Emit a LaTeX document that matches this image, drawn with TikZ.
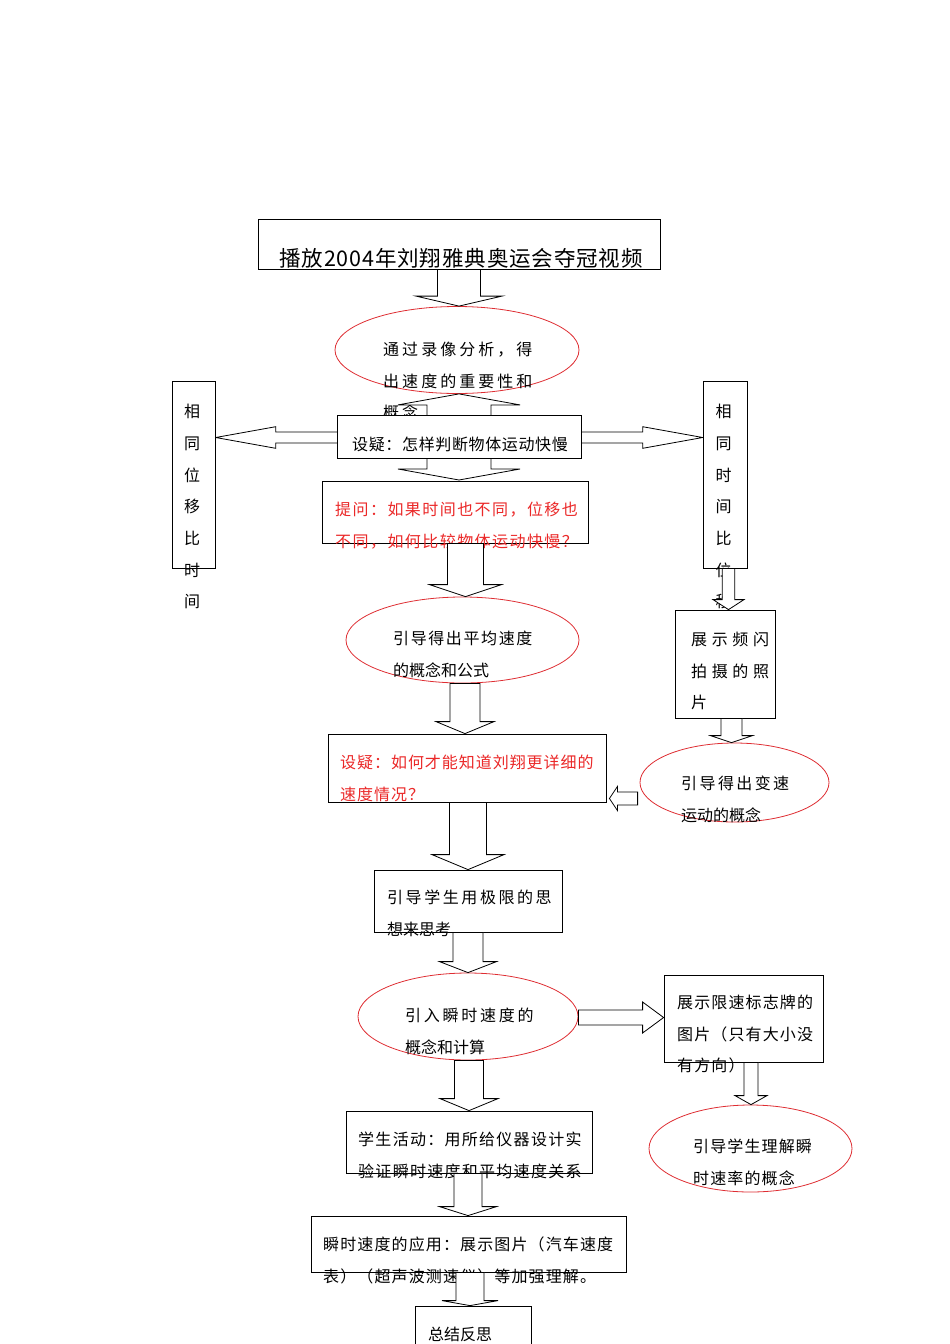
\documentclass[tikz,border=0pt]{standalone}
\usepackage{fontspec}
\newfontfamily\cjk{Noto Sans CJK SC}
\usepackage{tikz}
\usetikzlibrary{shapes.geometric,calc}
\usepackage{xcolor}

\definecolor{ored}{RGB}{222,45,50}
\definecolor{qred}{RGB}{235,40,40}

\tikzset{
 box/.style={draw, fill=white, rectangle, inner sep=0pt, line width=0.8pt},
 oval/.style={draw=ored, ellipse, inner sep=0pt, line width=0.8pt},
 barrow/.style={draw, fill=white, line width=0.8pt, line join=miter},
 txt/.style={anchor=north west, inner sep=0pt, align=left, font=\cjk\fontsize{16}{31.5}\selectfont\addfontfeature{LetterSpace=#1}},
 txt/.default=0,
 vtxt/.style={anchor=north, inner sep=0pt, align=center, font=\cjk\fontsize{16}{31.7}\selectfont}
}

% no extra spacing for a line
\newcommand{\nols}{\addfontfeature{LetterSpace=0}}

% block arrows: from, to, half shaft, half head, head length
\newcommand{\arrdown}[5]{\draw[barrow] let \p1=(#1), \p2=(#2) in (\x1-#3,\y1) -- (\x1+#3,\y1) -- (\x1+#3,\y2+#5) -- (\x1+#4,\y2+#5) -- (\x1,\y2) -- (\x1-#4,\y2+#5) -- (\x1-#3,\y2+#5) -- cycle;}
\newcommand{\arrup}[5]{\draw[barrow] let \p1=(#1), \p2=(#2) in (\x1-#3,\y1) -- (\x1+#3,\y1) -- (\x1+#3,\y2-#5) -- (\x1+#4,\y2-#5) -- (\x1,\y2) -- (\x1-#4,\y2-#5) -- (\x1-#3,\y2-#5) -- cycle;}
\newcommand{\arrleft}[5]{\draw[barrow] let \p1=(#1), \p2=(#2) in (\x1,\y1-#3) -- (\x1,\y1+#3) -- (\x2+#5,\y1+#3) -- (\x2+#5,\y1+#4) -- (\x2,\y1) -- (\x2+#5,\y1-#4) -- (\x2+#5,\y1-#3) -- cycle;}
\newcommand{\arrright}[5]{\draw[barrow] let \p1=(#1), \p2=(#2) in (\x1,\y1-#3) -- (\x1,\y1+#3) -- (\x2-#5,\y1+#3) -- (\x2-#5,\y1+#4) -- (\x2,\y1) -- (\x2-#5,\y1-#4) -- (\x2-#5,\y1-#3) -- cycle;}

\begin{document}
\begin{tikzpicture}[x=1pt,y=-1pt]
\clip (0,0) rectangle (950,1344);

% red ovals
\node[oval, minimum width=244, minimum height=87] (watch) at (457,350) {};
\node[txt=19] (watch-t) at (383,342) {通过录像分析，得\\出速度的重要性和\\概念};

\node[oval, minimum width=233, minimum height=86] (avg) at (462.5,640) {};
\node[txt=10] (avg-t) at (393,631) {引导得出平均速度\\{\nols 的概念和公式}};

\node[oval, minimum width=189, minimum height=79] (varv) at (734.5,782.5) {};
\node[txt=15] (varv-t) at (681,776) {引导得出变速\\{\nols 运动的概念}};

\node[oval, minimum width=220, minimum height=87] (inst) at (468,1016.5) {};
\node[txt=17] (inst-t) at (405,1008) {引入瞬时速度的\\{\nols 概念和计算}};

\node[oval, minimum width=203, minimum height=87] (rate) at (750.5,1148.5) {};
\node[txt=7] (rate-t) at (693,1139) {引导学生理解瞬\\时速率的概念};

\node[box, minimum width=402, minimum height=50] (video) at (459,244) {};
\node[anchor=base, inner sep=0pt, font=\cjk\fontsize{21.5}{24}\selectfont\addfontfeature{LetterSpace=4}] (video-t) at (461,266) {播放2004年刘翔雅典奥运会夺冠视频};

% arrows behind the question box
\arrup{459,436.5}{watch.south}{32}{61}{11}
\arrdown{459,436.5}{459,480}{32}{61}{11}
\arrleft{459,437.5}{215.7,437.5}{5.5}{10.8}{60}
\arrright{459,437.5}{702.7,437.5}{5.5}{10.8}{60}

\node[box, minimum width=244, minimum height=43] (how) at (459,436.5) {};
\node[txt=4] (how-t) at (352,437) {设疑：怎样判断物体运动快慢};

\node[box, minimum width=43, minimum height=187] (samex) at (193.5,474.5) {};
\node[vtxt] (samex-t) at (192,404) {相\\同\\位\\移\\比\\时\\间};
\node[box, minimum width=44, minimum height=187] (samet) at (725,474.5) {};
\node[vtxt] (samet-t) at (723.5,404) {相\\同\\时\\间\\比\\位\\移};

\node[box, minimum width=266, minimum height=62] (ask) at (455,512) {};
\node[txt=9, text=qred] (ask-t) at (335,502) {提问：如果时间也不同，位移也\\不同，如何比较物体运动快慢？};

\node[box, minimum width=100, minimum height=108] (flash) at (725,664) {};
\node[txt=29] (flash-t) at (691,632) {展示频闪\\拍摄的照\\片};

\node[box, minimum width=278, minimum height=68] (doubt) at (467,768) {};
\node[txt=6, text=qred] (doubt-t) at (340,755) {设疑：如何才能知道刘翔更详细的\\速度情况？};

\node[box, minimum width=188, minimum height=62] (limit) at (468,901) {};
\node[txt=16] (limit-t) at (387,890) {引导学生用极限的思\\{\nols 想来思考}};

\node[box, minimum width=159, minimum height=87] (sign) at (743.5,1018.5) {};
\node[txt=7] (sign-t) at (677,995) {展示限速标志牌的\\图片（只有大小没\\有方向）};

\node[box, minimum width=246, minimum height=62] (act) at (469,1142) {};
\node[txt=8] (act-t) at (358,1132) {学生活动：用所给仪器设计实\\验证瞬时速度和平均速度关系};

\node[box, minimum width=315, minimum height=56] (apply) at (468.5,1244) {};
\node[txt=7] (apply-t) at (323,1237) {瞬时速度的应用：展示图片（汽车速度\\表）（超声波测速仪）等加强理解。};

\node[box, minimum width=116, minimum height=48] (sum) at (473,1330) {};
\node[txt] (sum-t) at (428,1327) {总结反思};

% single arrows
\arrdown{video.south}{watch.north}{21.5}{43}{10}
\arrdown{[xshift=10.5pt]ask.south}{avg.north}{18}{36}{12}
\arrdown{[xshift=3.5pt]samet.south}{flash.north}{6.2}{15.5}{10}
\arrdown{[xshift=2.5pt]avg.south}{doubt.north}{15}{29}{12}
\arrdown{[xshift=6.5pt]flash.south}{varv.north}{10.5}{21}{7}
\arrleft{[xshift=-2pt,yshift=-16pt]varv.west}{[xshift=3pt]doubt.east}{6.5}{12}{8}
\arrdown{[xshift=1pt]doubt.south}{limit.north}{18.5}{36}{15}
\arrdown{limit.south}{inst.north}{15}{28.5}{11}
\arrright{[yshift=-1pt]inst.east}{sign.west}{7.5}{15.5}{21}
\arrdown{[xshift=7.5pt]sign.south}{rate.north}{7}{16}{9}
\arrdown{[xshift=1pt]inst.south}{act.north}{14.5}{29}{12}
\arrdown{[xshift=-1pt]act.south}{apply.north}{14}{28.5}{9}
\arrdown{[xshift=1.5pt]apply.south}{sum.north}{14}{28}{5}
\end{tikzpicture}
\end{document}
